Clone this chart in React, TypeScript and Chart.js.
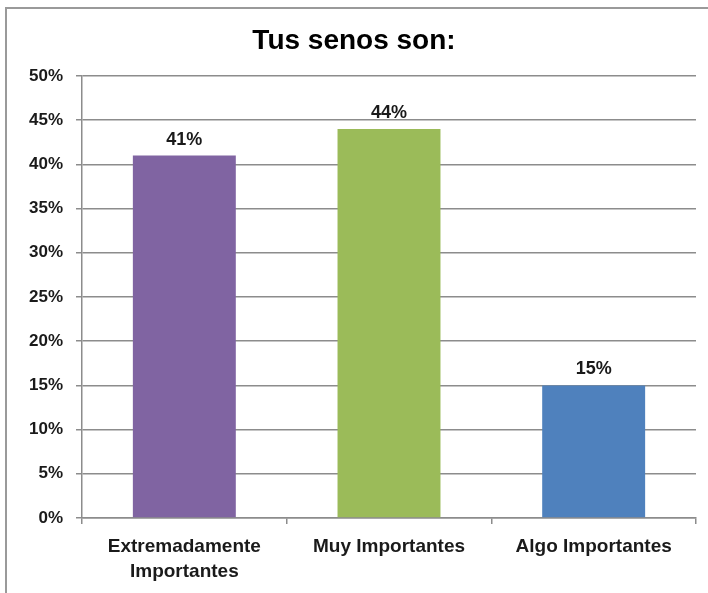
import React, { useEffect, useRef } from "react";
import { Chart, registerables } from "chart.js";

Chart.register(...registerables);

const TITLE = "Tus senos son:";
const categories: (string | string[])[] = [["Extremadamente", "Importantes"], "Muy Importantes", "Algo Importantes"];
const values = [41, 44, 15];
const barColors = ["#8064A2", "#9BBB59", "#4F81BD"];
const yMin = 0;
const yMax = 50;
const yStep = 5;

const FONT = "'Liberation Sans', Arial, Helvetica, sans-serif";
const GRID = "#8c8c8c";

const frame = {
  id: "frame",
  beforeDraw(chart: any) {
    const c = chart.ctx;
    c.save();
    c.fillStyle = "#ffffff";
    c.fillRect(0, 0, chart.width, chart.height);
    c.strokeStyle = "#9a9a9a";
    c.lineWidth = 2;
    c.beginPath();
    c.moveTo(6, chart.height + 2);
    c.lineTo(6, 8);
    c.lineTo(chart.width + 2, 8);
    c.stroke();
    c.restore();
  },
};

const valueLabels = {
  id: "valueLabels",
  afterDatasetsDraw(chart: any) {
    const c = chart.ctx;
    const meta = chart.getDatasetMeta(0);
    c.save();
    c.font = `bold 18px ${FONT}`;
    c.fillStyle = "#1a1a1a";
    c.textAlign = "center";
    c.textBaseline = "alphabetic";
    meta.data.forEach((bar: any, i: number) => {
      c.fillText(`${values[i]}%`, bar.x, bar.y - 11);
    });
    c.restore();
  },
};

export default function App() {
  const ref = useRef<HTMLCanvasElement>(null);
  useEffect(() => {
    if (!ref.current) return;
    const chart = new Chart(ref.current, {
      type: "bar",
      data: {
        labels: categories,
        datasets: [
          {
            data: values,
            backgroundColor: barColors,
            borderWidth: 0,
            barPercentage: 1,
            categoryPercentage: 0.503,
          },
        ],
      },
      options: {
        responsive: false,
        animation: false,
        layout: { padding: { left: 12, right: 12, top: 0, bottom: 0 } },
        plugins: {
          legend: { display: false },
          tooltip: { enabled: false },
          title: {
            display: true,
            text: TITLE,
            color: "#000000",
            font: { family: FONT, size: 28, weight: "bold", lineHeight: 1.2 },
            padding: { top: 24, bottom: 18.4 },
          },
        },
        scales: {
          x: {
            afterFit(scale: any) {
              scale.height = 75;
            },
            grid: {
              display: true,
              drawOnChartArea: false,
              drawTicks: true,
              tickLength: 6,
              offset: true,
              color: GRID,
              lineWidth: 1.5,
            },
            border: { display: true, color: GRID, width: 1.5 },
            ticks: {
              color: "#1a1a1a",
              font: { family: FONT, size: 19, weight: "bold", lineHeight: 1.28 },
              padding: 11,
              maxRotation: 0,
              autoSkip: false,
            },
          },
          y: {
            min: yMin,
            max: yMax,
            afterFit(scale: any) {
              scale.width = 70;
            },
            grid: {
              color: GRID,
              lineWidth: 1.5,
              drawTicks: true,
              tickLength: 6,
            },
            border: { display: true, color: GRID, width: 1.5 },
            ticks: {
              stepSize: yStep,
              color: "#1a1a1a",
              padding: 13,
              font: { family: FONT, size: 17, weight: "bold" },
              callback: (v: any) => `${v}%`,
            },
          },
        },
      },
      plugins: [frame, valueLabels],
    });
    return () => chart.destroy();
  }, []);
  return (
    <div style={{ position: "absolute", left: 0, top: 0, width: 708, height: 593, background: "#fff" }}>
      <canvas ref={ref} width={708} height={593} style={{ display: "block" }} />
    </div>
  );
}
